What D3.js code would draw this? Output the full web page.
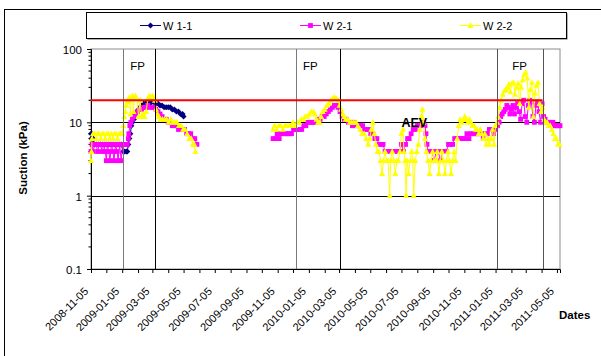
<!DOCTYPE html>
<html>
<head>
<meta charset="utf-8">
<script src="https://cdn.jsdelivr.net/npm/d3@7"></script>
<style>
  body { margin: 0; background: #fff; }
  svg { display: block; font-family: "Liberation Sans", Arial, sans-serif; }
</style>
</head>
<body>
<svg id="chart" width="601" height="356"></svg>
<script>
// ---- data -------------------------------------------------------------
const seriesNames = ["W 1-1", "W 2-1", "W 2-2"];

const w11 = [
  ["2008-11-05",7],["2008-11-06",6],["2008-11-07",7],["2008-11-08",5],["2008-11-09",6],
  ["2008-11-12",5],["2008-11-16",5],["2008-11-20",5],["2008-11-24",5],["2008-11-28",5],
  ["2008-12-02",5],["2008-12-06",5],["2008-12-10",5],["2008-12-14",5],["2008-12-18",5],
  ["2008-12-22",5],["2008-12-26",5],["2008-12-30",5],["2009-01-03",5],["2009-01-07",4],
  ["2009-01-10",4],["2009-01-13",4],["2009-01-15",4],["2009-01-17",5],["2009-01-19",6],
  ["2009-01-21",7],["2009-01-23",9],["2009-01-25",10],["2009-01-28",11],["2009-01-31",13],
  ["2009-02-03",14],["2009-02-06",15],["2009-02-09",16],["2009-02-12",17],["2009-02-16",18],
  ["2009-02-20",18],["2009-02-24",18],["2009-02-28",18],["2009-03-04",19],["2009-03-08",19],
  ["2009-03-12",18],["2009-03-16",18],["2009-03-20",17],["2009-03-24",17],["2009-03-28",16],
  ["2009-04-01",16],["2009-04-05",16],["2009-04-09",16],["2009-04-13",15],["2009-04-17",15],
  ["2009-04-21",14],["2009-04-25",14],["2009-04-29",13],["2009-05-03",13],["2009-05-05",12]
];

const w21 = [
  ["2008-11-05",4],["2008-11-07",5],["2008-11-09",4],["2008-11-12",5],["2008-11-15",5],
  ["2008-11-18",4],["2008-11-21",5],["2008-11-24",5],["2008-11-27",4],["2008-11-30",5],
  ["2008-12-03",4],["2008-12-05",3],["2008-12-07",5],["2008-12-10",4],["2008-12-12",3],
  ["2008-12-15",5],["2008-12-18",4],["2008-12-20",3],["2008-12-23",5],["2008-12-26",4],
  ["2008-12-28",3],["2008-12-31",5],["2009-01-03",3],["2009-01-06",5],["2009-01-09",5],
  ["2009-01-12",5],["2009-01-15",5],["2009-01-17",6],["2009-01-18",7],["2009-01-20",9],
  ["2009-01-22",10],["2009-01-25",11],["2009-01-28",12],["2009-01-31",13],["2009-02-04",14],
  ["2009-02-08",15],["2009-02-12",15],["2009-02-16",16],["2009-02-20",16],["2009-02-24",17],
  ["2009-02-28",16],["2009-03-04",16],["2009-03-08",16],["2009-03-12",15],["2009-03-16",14],
  ["2009-03-20",13],["2009-03-24",12],["2009-03-28",11],["2009-04-01",11],["2009-04-05",10],
  ["2009-04-09",10],["2009-04-13",9],["2009-04-17",9],["2009-04-21",9],["2009-04-25",8],
  ["2009-04-29",8],["2009-05-03",8],["2009-05-07",8],["2009-05-11",7],["2009-05-15",7],
  ["2009-05-19",7],["2009-05-23",6],["2009-05-27",6],["2009-05-31",5],
  ["2009-10-27",6],["2009-10-31",6],["2009-11-04",7],["2009-11-08",6],["2009-11-12",7],
  ["2009-11-16",7],["2009-11-20",7],["2009-11-24",7],["2009-11-28",7],["2009-12-02",7],
  ["2009-12-06",8],["2009-12-10",8],["2009-12-14",8],["2009-12-18",8],["2009-12-22",8],
  ["2009-12-26",9],["2009-12-30",9],["2010-01-03",10],["2010-01-07",10],["2010-01-11",10],
  ["2010-01-15",10],["2010-01-19",10],["2010-01-23",11],["2010-01-27",11],["2010-01-31",12],
  ["2010-02-04",12],["2010-02-08",13],["2010-02-12",14],["2010-02-16",15],["2010-02-20",16],
  ["2010-02-24",17],["2010-02-28",17],["2010-03-03",16],["2010-03-07",14],["2010-03-11",12],
  ["2010-03-15",11],["2010-03-19",11],["2010-03-23",10],["2010-03-27",10],["2010-03-31",9],
  ["2010-04-04",10],["2010-04-08",9],["2010-04-12",9],["2010-04-16",9],["2010-04-20",9],
  ["2010-04-24",8],["2010-04-28",8],["2010-05-02",8],["2010-05-06",7],["2010-05-10",7],
  ["2010-05-14",6],["2010-05-18",6],["2010-05-22",5],["2010-05-26",5],["2010-05-30",5],
  ["2010-06-03",4],["2010-06-07",4],["2010-06-11",4],["2010-06-15",4],["2010-06-19",4],
  ["2010-06-23",4],["2010-06-27",4],["2010-07-01",4],["2010-07-05",5],["2010-07-09",4],
  ["2010-07-13",5],["2010-07-17",6],["2010-07-20",6],["2010-07-24",7],["2010-07-28",8],
  ["2010-08-01",8],["2010-08-05",9],["2010-08-09",9],["2010-08-13",9],["2010-08-17",10],
  ["2010-08-20",9],["2010-08-22",7],["2010-08-24",5],["2010-08-26",4],["2010-08-30",4],
  ["2010-09-03",4],["2010-09-07",3],["2010-09-11",4],["2010-09-15",4],["2010-09-19",3],
  ["2010-09-23",4],["2010-09-27",4],["2010-10-01",4],["2010-10-05",5],["2010-10-09",5],
  ["2010-10-13",5],["2010-10-17",6],["2010-10-21",6],["2010-10-25",6],["2010-10-29",6],
  ["2010-11-02",6],["2010-11-06",6],["2010-11-10",7],["2010-11-14",6],["2010-11-18",7],
  ["2010-11-22",7],["2010-11-26",7],["2010-11-30",7],["2010-12-04",7],["2010-12-08",7],
  ["2010-12-12",6],["2010-12-16",7],["2010-12-20",7],["2010-12-24",8],["2010-12-28",8],
  ["2011-01-01",7],["2011-01-05",8],["2011-01-09",9],["2011-01-12",10],["2011-01-15",12],
  ["2011-01-18",13],["2011-01-21",14],["2011-01-24",15],["2011-01-27",17],["2011-01-30",16],
  ["2011-02-02",13],["2011-02-05",15],["2011-02-08",17],["2011-02-11",13],["2011-02-14",16],
  ["2011-02-17",18],["2011-02-20",14],["2011-02-23",11],["2011-02-26",18],["2011-03-01",20],
  ["2011-03-04",12],["2011-03-07",10],["2011-03-10",17],["2011-03-13",20],["2011-03-16",19],
  ["2011-03-19",12],["2011-03-22",10],["2011-03-25",17],["2011-03-28",19],["2011-03-31",14],
  ["2011-04-03",10],["2011-04-06",18],["2011-04-09",12],["2011-04-12",11],["2011-04-15",10],
  ["2011-04-18",10],["2011-04-21",10],["2011-04-24",10],["2011-04-27",10],["2011-04-30",9],
  ["2011-05-03",9],["2011-05-06",9],["2011-05-09",9],["2011-05-11",9]
];

const w22 = [
  ["2008-11-05",3],["2008-11-06",4],["2008-11-07",6],["2008-11-09",7],["2008-11-12",7],
  ["2008-11-15",6],["2008-11-18",7],["2008-11-21",7],["2008-11-24",6],["2008-11-27",7],
  ["2008-11-30",7],["2008-12-03",6],["2008-12-06",7],["2008-12-09",7],["2008-12-12",6],
  ["2008-12-15",7],["2008-12-18",6],["2008-12-21",7],["2008-12-24",7],["2008-12-27",6],
  ["2008-12-30",7],["2009-01-02",7],["2009-01-05",7],["2009-01-07",9],["2009-01-09",12],
  ["2009-01-11",14],["2009-01-13",17],["2009-01-15",19],["2009-01-17",20],["2009-01-19",22],
  ["2009-01-21",13],["2009-01-23",22],["2009-01-25",23],["2009-01-27",14],["2009-01-29",22],
  ["2009-01-31",23],["2009-02-03",21],["2009-02-06",12],["2009-02-09",20],["2009-02-12",12],
  ["2009-02-15",13],["2009-02-18",12],["2009-02-21",14],["2009-02-24",21],["2009-02-27",23],
  ["2009-03-02",22],["2009-03-05",23],["2009-03-08",22],["2009-03-10",20],["2009-03-12",15],
  ["2009-03-15",13],["2009-03-18",12],["2009-03-21",11],["2009-03-25",11],["2009-03-29",11],
  ["2009-04-02",11],["2009-04-06",10],["2009-04-10",11],["2009-04-14",10],["2009-04-18",10],
  ["2009-04-22",10],["2009-04-26",9],["2009-04-30",9],["2009-05-04",8],["2009-05-08",8],
  ["2009-05-12",7],["2009-05-16",6],["2009-05-20",6],["2009-05-23",5],["2009-05-26",5],
  ["2009-05-28",4],
  ["2009-10-27",8],["2009-10-30",9],["2009-11-03",8],["2009-11-07",9],["2009-11-11",9],
  ["2009-11-15",8],["2009-11-19",9],["2009-11-23",9],["2009-11-27",9],["2009-12-01",9],
  ["2009-12-05",10],["2009-12-09",9],["2009-12-13",10],["2009-12-17",10],["2009-12-21",11],
  ["2009-12-25",11],["2009-12-29",12],["2010-01-02",12],["2010-01-06",13],["2010-01-10",14],
  ["2010-01-14",14],["2010-01-17",13],["2010-01-20",11],["2010-01-23",10],["2010-01-26",10],
  ["2010-01-29",12],["2010-02-01",14],["2010-02-05",15],["2010-02-09",17],["2010-02-13",18],
  ["2010-02-17",20],["2010-02-20",21],["2010-02-24",22],["2010-02-28",21],["2010-03-03",20],
  ["2010-03-06",17],["2010-03-09",15],["2010-03-12",13],["2010-03-15",12],["2010-03-18",11],
  ["2010-03-22",11],["2010-03-26",10],["2010-03-30",10],["2010-04-03",10],["2010-04-07",10],
  ["2010-04-11",9],["2010-04-15",8],["2010-04-19",7],["2010-04-23",7],["2010-04-27",6],
  ["2010-05-01",5],["2010-05-04",6],["2010-05-07",8],["2010-05-10",10],["2010-05-13",7],
  ["2010-05-16",5],["2010-05-19",4],["2010-05-22",4],["2010-05-25",3],["2010-05-28",2],
  ["2010-05-31",3],["2010-06-03",4],["2010-06-06",3],["2010-06-09",3],["2010-06-12",1],
  ["2010-06-14",3],["2010-06-17",4],["2010-06-20",3],["2010-06-23",2],["2010-06-26",3],
  ["2010-06-29",3],["2010-07-02",4],["2010-07-05",7],["2010-07-08",8],["2010-07-10",4],
  ["2010-07-12",3],["2010-07-14",1],["2010-07-16",3],["2010-07-19",2],["2010-07-22",3],
  ["2010-07-25",4],["2010-07-27",3],["2010-07-29",1],["2010-08-01",3],["2010-08-04",4],
  ["2010-08-07",5],["2010-08-10",8],["2010-08-13",12],["2010-08-15",15],["2010-08-17",10],
  ["2010-08-20",6],["2010-08-23",4],["2010-08-26",3],["2010-08-29",2],["2010-09-01",3],
  ["2010-09-04",4],["2010-09-07",3],["2010-09-10",3],["2010-09-13",4],["2010-09-16",2],
  ["2010-09-19",3],["2010-09-22",4],["2010-09-25",3],["2010-09-28",2],["2010-10-01",3],
  ["2010-10-04",4],["2010-10-07",3],["2010-10-10",2],["2010-10-13",3],["2010-10-16",4],
  ["2010-10-19",3],["2010-10-22",6],["2010-10-25",9],["2010-10-28",11],["2010-10-31",10],
  ["2010-11-03",11],["2010-11-06",12],["2010-11-09",11],["2010-11-12",10],["2010-11-15",11],
  ["2010-11-18",10],["2010-11-21",9],["2010-11-24",9],["2010-11-27",8],["2010-11-30",8],
  ["2010-12-03",7],["2010-12-06",8],["2010-12-09",7],["2010-12-12",6],["2010-12-15",7],
  ["2010-12-18",5],["2010-12-21",6],["2010-12-24",5],["2010-12-27",6],["2010-12-30",8],
  ["2011-01-02",5],["2011-01-05",9],["2011-01-08",10],["2011-01-10",12],["2011-01-13",16],
  ["2011-01-16",20],["2011-01-19",24],["2011-01-22",27],["2011-01-25",28],["2011-01-28",30],
  ["2011-01-31",33],["2011-02-03",26],["2011-02-06",34],["2011-02-09",35],["2011-02-12",24],
  ["2011-02-15",30],["2011-02-18",34],["2011-02-21",18],["2011-02-24",30],["2011-02-27",38],
  ["2011-03-02",45],["2011-03-05",48],["2011-03-08",40],["2011-03-11",16],["2011-03-14",28],
  ["2011-03-17",35],["2011-03-20",12],["2011-03-23",25],["2011-03-26",32],["2011-03-29",35],
  ["2011-04-01",18],["2011-04-04",14],["2011-04-07",16],["2011-04-10",11],["2011-04-13",10],
  ["2011-04-16",10],["2011-04-19",9],["2011-04-22",9],["2011-04-25",8],["2011-04-28",7],
  ["2011-05-01",6],["2011-05-04",6],["2011-05-07",5],["2011-05-10",5]
];

const xTickLabels = ["2008-11-05","2009-01-05","2009-03-05","2009-05-05","2009-07-05",
  "2009-09-05","2009-11-05","2010-01-05","2010-03-05","2010-05-05","2010-07-05",
  "2010-09-05","2010-11-05","2011-01-05","2011-03-05","2011-05-05"];
const yTickValues = [0.1, 1, 10, 100];
const xDomain = ["2008-11-05", "2011-05-11"];

// freezing-period boundaries and labels
const periodLines = ["2009-01-06","2009-03-10","2009-12-11","2010-03-07","2011-01-07","2011-04-07"];
const periodLabels = [["2009-02-04","FP"],["2010-01-08","FP"],["2011-02-21","FP"]];
// air entry value
const aevValue = 20;
const aevRange = ["2008-11-05","2011-04-07"];
const aevLabel = ["2010-07-30", 10, "AEV"];

// ---- drawing ----------------------------------------------------------
const parse = d3.timeParse("%Y-%m-%d");
const svg = d3.select("#chart");
const plot = {left: 91, right: 560, top: 49, bottom: 269};

const x = d3.scaleTime().domain(xDomain.map(parse)).range([plot.left, plot.right]);
const y = d3.scaleLog().domain([0.1, 100]).range([plot.bottom, plot.top]);

const styles = [
  {color: "#000080", marker: "diamond"},
  {color: "#FF00FF", marker: "square"},
  {color: "#FFFF00", marker: "triangle"}
];
const markerPath = {
  diamond: "M0,-3L3,0L0,3L-3,0Z",
  square: "M-2.4,-2.4H2.4V2.4H-2.4Z",
  triangle: "M0,-3.3L3,2.4H-3Z"
};

// outer chart frame (extends past the visible window)
svg.append("rect").attr("x", 4.5).attr("y", 9.5).attr("width", 800).attr("height", 500)
  .attr("fill", "none").attr("stroke", "#000").attr("stroke-width", 1);

// plot frame
svg.append("rect").attr("x", plot.left).attr("y", plot.top)
  .attr("width", plot.right - plot.left).attr("height", plot.bottom - plot.top)
  .attr("fill", "#fff").attr("stroke", "#8c8c8c").attr("stroke-width", 1);

// horizontal gridlines
svg.append("g").selectAll("line").data(yTickValues.filter(v => v > 0.1 && v < 100)).join("line")
  .attr("x1", plot.left).attr("x2", plot.right)
  .attr("y1", d => Math.round(y(d)) + 0.5).attr("y2", d => Math.round(y(d)) + 0.5)
  .attr("stroke", "#000").attr("stroke-width", 1);

// y axis
const yAxis = svg.append("g").attr("transform", `translate(${plot.left},0)`)
  .call(d3.axisLeft(y).tickValues(yTickValues).tickSize(4).tickPadding(5)
    .tickFormat(d => String(d)));
yAxis.select(".domain").attr("stroke", "#000");
yAxis.selectAll("text").attr("font-size", 11.5).attr("fill", "#000")
  .attr("font-family", "Liberation Sans, Arial, sans-serif").attr("dy", "0.38em");
const minorY = [];
[0.1, 1, 10].forEach(b => { for (let k = 2; k <= 9; k++) minorY.push(b * k); });
svg.append("g").selectAll("line").data(minorY).join("line")
  .attr("x1", plot.left - 2.5).attr("x2", plot.left)
  .attr("y1", d => y(d)).attr("y2", d => y(d))
  .attr("stroke", "#000").attr("stroke-width", 1);

// x axis: monthly ticks, labels every two months
const labelDates = xTickLabels.map(parse);
const monthTicks = [];
labelDates.forEach((d, i) => {
  monthTicks.push(d);
  if (i < labelDates.length - 1) monthTicks.push(d3.timeMonth.offset(d, 1));
});
const xAxis = svg.append("g").attr("transform", `translate(0,${plot.bottom})`)
  .call(d3.axisBottom(x).tickValues(monthTicks).tickSize(4).tickFormat(""));
xAxis.select(".domain").attr("stroke", "#000");
svg.append("g").selectAll("text").data(xTickLabels).join("text")
  .attr("transform", d => `translate(${x(parse(d)) - 2},${plot.bottom + 23}) rotate(-45)`)
  .attr("text-anchor", "end")
  .attr("font-size", 11).attr("fill", "#000")
  .text(d => d);

// series
const allSeries = [w11, w21, w22];
const line = d3.line().x(d => x(d.date)).y(d => y(d.value));
allSeries.forEach((raw, i) => {
  const pts = raw.map(([d, v]) => ({date: parse(d), value: v}));
  // split into runs where the record has a gap of more than a month
  const runs = [];
  let cur = [];
  pts.forEach((p, j) => {
    if (j > 0 && (p.date - pts[j - 1].date) > 40 * 864e5) { runs.push(cur); cur = []; }
    cur.push(p);
  });
  runs.push(cur);
  const g = svg.append("g");
  g.selectAll("path.run").data(runs).join("path").attr("class", "run")
    .attr("d", line).attr("fill", "none")
    .attr("stroke", styles[i].color).attr("stroke-width", 1);
  g.selectAll("path.mk").data(pts).join("path").attr("class", "mk")
    .attr("d", markerPath[styles[i].marker])
    .attr("transform", d => `translate(${x(d.date)},${y(d.value)})`)
    .attr("fill", styles[i].color);
});

// freezing-period boundaries
const lineColors = ["#7a7a7a", "#000", "#7a7a7a", "#000", "#555", "#555"];
svg.append("g").selectAll("line").data(periodLines).join("line")
  .attr("x1", d => Math.round(x(parse(d))) + 0.5).attr("x2", d => Math.round(x(parse(d))) + 0.5)
  .attr("y1", plot.top).attr("y2", plot.bottom)
  .attr("stroke", (d, i) => lineColors[i]).attr("stroke-width", 1);

// AEV threshold
svg.append("line")
  .attr("x1", x(parse(aevRange[0]))).attr("x2", x(parse(aevRange[1])))
  .attr("y1", y(aevValue)).attr("y2", y(aevValue))
  .attr("stroke", "#ff0000").attr("stroke-width", 2);

svg.append("g").selectAll("text").data(periodLabels).join("text")
  .attr("x", d => x(parse(d[0]))).attr("y", 70)
  .attr("text-anchor", "middle").attr("font-size", 11.5).attr("fill", "#000")
  .text(d => d[1]);

svg.append("text")
  .attr("x", x(parse(aevLabel[0]))).attr("y", y(aevLabel[1]) + 4.5)
  .attr("text-anchor", "middle").attr("font-size", 12.5).attr("font-weight", "bold")
  .attr("fill", "#000").text(aevLabel[2]);

// axis titles
svg.append("text").attr("transform", "translate(27,158) rotate(-90)")
  .attr("text-anchor", "middle").attr("font-size", 11.5).attr("font-weight", "bold")
  .text("Suction (kPa)");
svg.append("text").attr("x", 559).attr("y", 319)
  .attr("font-size", 11.5).attr("font-weight", "bold").text("Dates");

// legend
const legend = svg.append("g");
legend.append("rect").attr("x", 87.5).attr("y", 13.5).attr("width", 480).attr("height", 26)
  .attr("fill", "#666");
legend.append("rect").attr("x", 86.5).attr("y", 12.5).attr("width", 480).attr("height", 26)
  .attr("fill", "#fff").attr("stroke", "#000").attr("stroke-width", 1);
const legendX = [140, 300, 460];
seriesNames.forEach((name, i) => {
  const lx = legendX[i];
  legend.append("line").attr("x1", lx).attr("x2", lx + 21).attr("y1", 25.5).attr("y2", 25.5)
    .attr("stroke", styles[i].color).attr("stroke-width", 1);
  legend.append("path").attr("d", markerPath[styles[i].marker])
    .attr("transform", `translate(${lx + 10.5},25.5)`).attr("fill", styles[i].color);
  legend.append("text").attr("x", lx + 23).attr("y", 29.5)
    .attr("font-size", 11).attr("fill", "#000").text(name);
});
</script>
</body>
</html>
